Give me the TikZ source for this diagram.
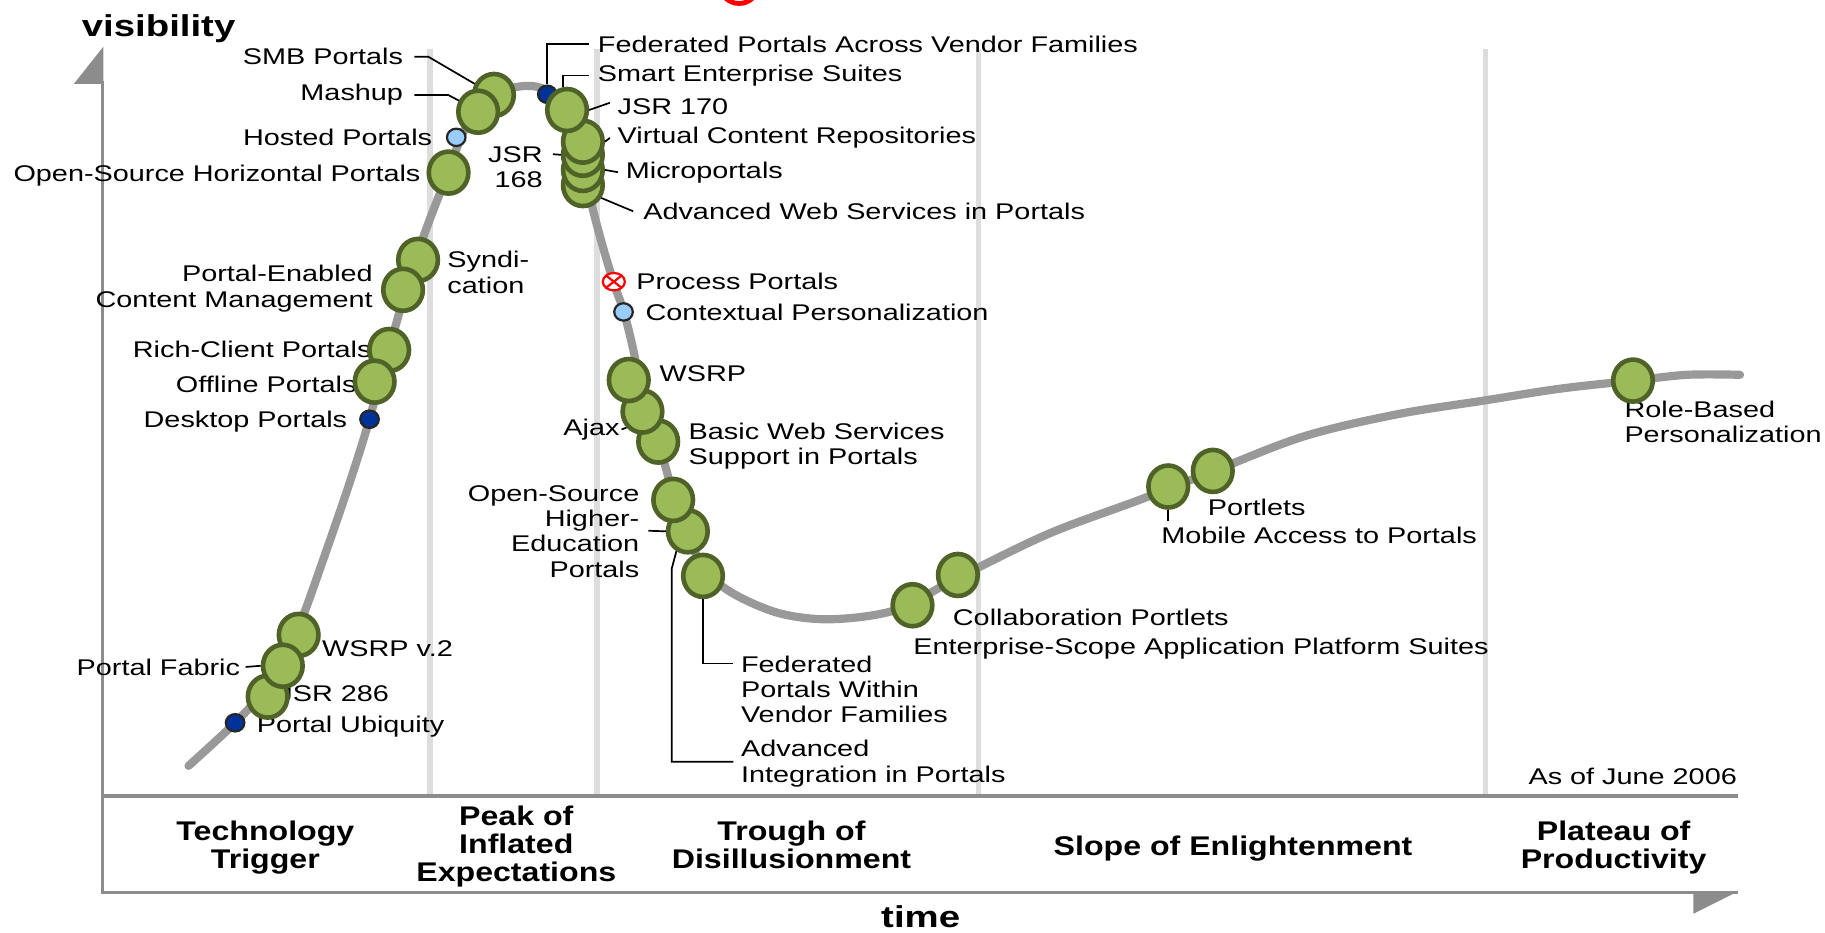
\documentclass[tikz,border=0pt]{standalone}
\usepackage{fontspec}
\setmainfont[FakeStretch=1.27]{Liberation Sans}
\newfontfamily\phasefont[FakeStretch=1.19]{Liberation Sans}
\usetikzlibrary{shapes.geometric}

\tikzset{every picture/.style={line width=0.85pt}}
\tikzset{
  hype/.style={color={rgb, 255:red, 153; green, 153; blue, 153 }, line width=4.1pt, line cap=round},
  axisline/.style={color={rgb, 255:red, 140; green, 140; blue, 140 }, line width=1.75pt},
  phaseline/.style={color={rgb, 255:red, 221; green, 221; blue, 221 }, line width=2.6pt},
  lead/.style={color=black, line width=0.85pt},
  bubble/.style={ellipse, draw, minimum width=19.8pt, minimum height=21pt, inner sep=0pt, line width=2.3pt,
    color={rgb, 255:red, 79; green, 98; blue, 40 }, fill={rgb, 255:red, 155; green, 187; blue, 89 }},
  darkdot/.style={ellipse, draw=black!85, minimum width=9.3pt, minimum height=8.7pt, inner sep=0pt, line width=1.1pt,
    fill={rgb, 255:red, 0; green, 51; blue, 153 }},
  lightdot/.style={darkdot, fill={rgb, 255:red, 153; green, 204; blue, 255 }},
  xdot/.style={ellipse, draw, minimum width=11pt, minimum height=8.7pt, inner sep=0pt, line width=1.1pt,
    color={rgb, 255:red, 255; green, 0; blue, 0 }, fill=white,
    path picture={\draw [color={rgb, 255:red, 255; green, 0; blue, 0 }, line width=1.1pt]
      (path picture bounding box.north west) -- (path picture bounding box.south east)
      (path picture bounding box.north east) -- (path picture bounding box.south west);}},
  lbl/.style={inner sep=0pt, font=\fontsize{11.35}{12.6}\selectfont},
  phase/.style={inner sep=0pt, align=center, font=\phasefont\bfseries\fontsize{13.5}{14}\selectfont},
  axislbl/.style={inner sep=0pt, font=\bfseries\fontsize{15.1}{16}\selectfont}
}

\begin{document}
\begin{tikzpicture}[x=0.582pt,y=0.582pt,yscale=-1,xscale=1]
\useasboundingbox (0,0) rectangle (1568,801.6);

%Shape: Arc [id:red top]
\begin{scope}
\clip (0,0) rectangle (1568,12);
\draw [color={rgb, 255:red, 255; green, 0; blue, 0 }, line width=2.4pt] (635,-12) ellipse (16 and 15);
\end{scope}

%Straight Lines [id:phase borders]
\draw [phaseline] (369.5,42) -- (369.5,684);
\draw [phaseline] (513,42) -- (513,684);
\draw [phaseline] (841,42) -- (841,684);
\draw [phaseline] (1276.3,42) -- (1276.3,684);

%Straight Lines [id:axes]
\draw [axisline] (88,70) -- (88,767) -- (1493,767);
\draw [axisline] (88,684) -- (1493,684);
\fill [color={rgb, 255:red, 140; green, 140; blue, 140 }] (88.9,40) -- (88.9,72) -- (63.5,72) -- cycle;
\fill [color={rgb, 255:red, 140; green, 140; blue, 140 }] (1493,766) -- (1455,766) -- (1455,785) -- cycle;

%Curve Lines [id:hype curve]
\draw [hype] plot [smooth, tension=0.55] coordinates {(162,658) (202,621) (230,590) (248,560) (262,525) (278,480) (296,428) (310,385) (318,358) (327,325) (337,290) (350,245) (365,200) (385,148) (398,114) (415,90) (435,77) (458,74) (478,82) (492,100) (501,128) (506,165) (516,205) (527,242) (536,268) (544,300) (551,335) (560,365) (570,395) (580,430) (592,462) (606,490) (630,510) (670,527) (715,532) (770,524) (820,498) (900,459) (979,429.5) (1042,405) (1120,375) (1200,356) (1276,344) (1340,334) (1403,327) (1450,322) (1495,322)};

% Text Node
\node [lbl, anchor=base east] (lSMB) at (347,55.7) {SMB Portals};
% Text Node
\node [lbl, anchor=base east] (lMash) at (347,86.6) {Mashup};
% Text Node
\node [lbl, anchor=base east] (lHosted) at (372,125) {Hosted Portals};
% Text Node
\node [lbl, anchor=base east] (lOSHP) at (362,156) {Open-Source Horizontal Portals};
% Text Node
\node [lbl, anchor=north west, align=left] (lSyndi) at (383.7,215.3) {Syndi-\\cation};
% Text Node
\node [lbl, anchor=north east, align=right] (lPEC) at (321,227.3) {Portal-Enabled\\Content Management};
% Text Node
\node [lbl, anchor=base east] (lRich) at (320,307) {Rich-Client Portals};
% Text Node
\node [lbl, anchor=base east] (lOffline) at (307,337) {Offline Portals};
% Text Node
\node [lbl, anchor=base east] (lDesktop) at (299,367) {Desktop Portals};
% Text Node
\node [lbl, anchor=base west] (lWSRPtwo) at (276,564) {WSRP v.2};
% Text Node
\node [lbl, anchor=base east] (lFabric) at (207,580) {Portal Fabric};
% Text Node
\node [lbl, anchor=base west] (lJSRtwo) at (238.5,603) {JSR 286};
% Text Node
\node [lbl, anchor=base west] (lUbiq) at (220,629) {Portal Ubiquity};
% Text Node
\node [lbl, anchor=base west] (lFedX) at (513,45) {Federated Portals Across Vendor Families};
% Text Node
\node [lbl, anchor=base west] (lSmart) at (513,70) {Smart Enterprise Suites};
% Text Node
\node [lbl, anchor=base west] (lJSRsvn) at (530,98) {JSR 170};
% Text Node
\node [lbl, anchor=base west] (lVCR) at (530,123.5) {Virtual Content Repositories};
% Text Node
\node [lbl, anchor=north east, align=right] (lJSRone) at (467,125) {JSR\\168};
% Text Node
\node [lbl, anchor=base west] (lMicro) at (537,153) {Microportals};
% Text Node
\node [lbl, anchor=base west] (lAWS) at (552,188.5) {Advanced Web Services in Portals};
% Text Node
\node [lbl, anchor=base west] (lProcess) at (546,248.5) {Process Portals};
% Text Node
\node [lbl, anchor=base west] (lContext) at (554,275) {Contextual Personalization};
% Text Node
\node [lbl, anchor=base west] (lWSRP) at (566,328) {WSRP};
% Text Node
\node [lbl, anchor=base east] (lAjax) at (533,374) {Ajax};
% Text Node
\node [lbl, anchor=north west, align=left] (lBasic) at (591,362.5) {Basic Web Services\\Support in Portals};
% Text Node
\node [lbl, anchor=north east, align=right] (lOSHE) at (550,416.5) {Open-Source\\Higher-\\Education\\Portals};
% Text Node
\node [lbl, anchor=north west, align=left] (lFedW) at (636,562.5) {Federated\\Portals Within\\Vendor Families};
% Text Node
\node [lbl, anchor=north west, align=left] (lAdvInt) at (636,635.5) {Advanced\\Integration in Portals};
% Text Node
\node [lbl, anchor=base west] (lCollab) at (818,537) {Collaboration Portlets};
% Text Node
\node [lbl, anchor=base west] (lESAPS) at (784,562.5) {Enterprise-Scope Application Platform Suites};
% Text Node
\node [lbl, anchor=base west] (lPortlets) at (1037,443) {Portlets};
% Text Node
\node [lbl, anchor=base west] (lMobile) at (997,467) {Mobile Access to Portals};
% Text Node
\node [lbl, anchor=north west, align=left] (lRole) at (1395,343.5) {Role-Based\\Personalization};
% Text Node
\node [lbl, anchor=base east] (lAsOf) at (1493,674) {As of June 2006};

% Text Node
\node [phase, anchor=north] (pTrigger) at (228,704.5) {Technology\\Trigger};
% Text Node
\node [phase, anchor=north] (pPeak) at (443.6,691.7) {Peak of\\Inflated\\Expectations};
% Text Node
\node [phase, anchor=north] (pTrough) at (680,704.5) {Trough of\\Disillusionment};
% Text Node
\node [phase, anchor=base] (pSlope) at (1059.4,735.3) {Slope of Enlightenment};
% Text Node
\node [phase, anchor=north] (pPlateau) at (1386.4,704.5) {Plateau of\\Productivity};
% Text Node
\node [axislbl, anchor=base west] (yLabel) at (69.6,31.5) {visibility};
% Text Node
\node [axislbl, anchor=base] (xLabel) at (791,797) {time};

%Shape: Ellipse [id:dots]
\node [lightdot] (dHosted) at (392,118) {};
\node [darkdot] (dDesktop) at (317.5,360.2) {};
\node [darkdot] (dUbiq) at (202,621) {};
\node [darkdot] (dFedX) at (470.2,81) {};
\node [xdot] (dProcess) at (527.4,242) {};
\node [lightdot] (dContext) at (535.7,268) {};

%Shape: Ellipse [id:bubbles]
\node [bubble] (bSMB) at (424.4,81.6) {};
\node [bubble] (bMash) at (410.8,96) {};
\node [bubble] (bOSHP) at (385.4,148.3) {};
\node [bubble] (bSyndi) at (359.2,223.3) {};
\node [bubble] (bPEC) at (346.3,249) {};
\node [bubble] (bRich) at (334.4,300.7) {};
\node [bubble] (bOffline) at (321.9,327.9) {};
\node [bubble] (bWSRPtwo) at (256.6,545.5) {};
\node [bubble] (bJSRtwo) at (230,598.5) {};
\node [bubble] (bFabric) at (243,572) {};
\node [bubble] (bAWS) at (500.8,159) {};
\node [bubble] (bMicro) at (500.8,146) {};
\node [bubble] (bJSRone) at (500.8,133) {};
\node [bubble] (bVCR) at (500.8,121.7) {};
\node [bubble] (bJSRsvn) at (487.2,94.5) {};
\node [bubble] (bBasic) at (565.5,379.4) {};
\node [bubble] (bAjax) at (552,353.6) {};
\node [bubble] (bWSRP) at (540.2,326.5) {};
\node [bubble] (bAdvInt) at (591,456.5) {};
\node [bubble] (bOSHE) at (578.4,429.5) {};
\node [bubble] (bFedW) at (604,494.8) {};
\node [bubble] (bESAPS) at (784,520) {};
\node [bubble] (bCollab) at (823,494) {};
\node [bubble] (bMobile) at (1003.7,418) {};
\node [bubble] (bPortlets) at (1042,404.6) {};
\node [bubble] (bRole) at (1403,327) {};

%Straight Lines [id:leaders]
\draw [lead] ([shift={(9,0)}]lSMB.east) -- ++(12,0) -- (bSMB.150);
\draw [lead] ([shift={(9,0)}]lMash.east) -- ++(29,0) -- (bMash.150);
\draw [lead] ([shift={(-7,0)}]lFedX.west) -| (dFedX.north);
\draw [lead] ([shift={(-7,0)}]lSmart.west) -| (bJSRsvn.100);
\draw [lead] ([shift={(-6,-3)}]lJSRsvn.west) -- (bJSRsvn.east);
\draw [lead] ([shift={(-6,0)}]lVCR.west) -- (bVCR.east);
\draw [lead] ([shift={(8,7.5)}]lJSRone.north east) -- (bJSRone.west);
\draw [lead] ([shift={(-6,0)}]lMicro.west) -- (bMicro.east);
\draw [lead] ([shift={(-8,0)}]lAWS.west) -- (bAWS.-35);
\draw [lead] ([shift={(4,0)}]lFabric.east) -- (bFabric.west);
\draw [lead] ([shift={(1,0)}]lAjax.east) -- (bAjax.225);
\draw [lead] ([shift={(7,39.5)}]lOSHE.north east) -- (bAdvInt.west);
\draw [lead] ([shift={(-6,7.5)}]lFedW.north west) -| (bFedW.south);
\draw [lead] ([shift={(-6,19)}]lAdvInt.north west) -| ([shift={(-4,15)}]bAdvInt.240) -- (bAdvInt.240);
\draw [lead] (bMobile.south) -- ++(0,10);
\end{tikzpicture}
\end{document}
